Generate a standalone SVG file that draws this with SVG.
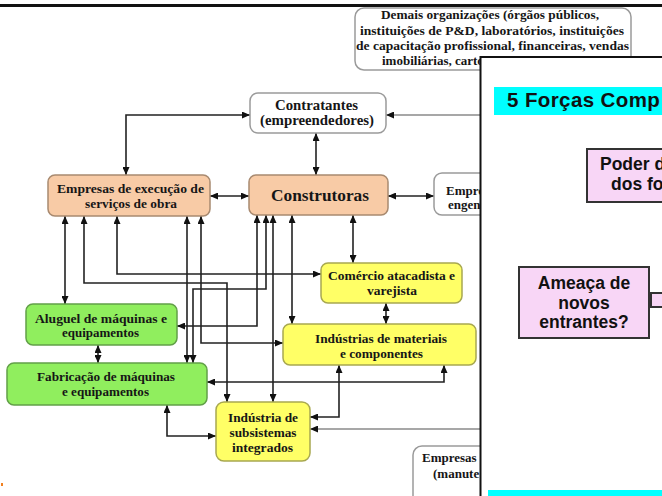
<svg xmlns="http://www.w3.org/2000/svg" width="662" height="496" viewBox="0 0 662 496">
  <style>
    .box { stroke-width: 1.5; }
    .white { fill: #ffffff; stroke: #9a9a9a; }
    .orange { fill: #f8cba6; stroke: #a88a70; }
    .yellow { fill: #ffff66; stroke: #a8a850; }
    .green { fill: #90ee5e; stroke: #62a048; }
    .t { font-family: "Liberation Serif", "Times New Roman", serif; font-weight: bold; font-size: 13px; fill: #161616; text-anchor: middle; }
    .ts { text-anchor: start; }
    .c { fill: none; stroke: #222; stroke-width: 1.6; marker-start: url(#ah); marker-end: url(#ah); }
    .c1 { fill: none; stroke: #8a8a8a; stroke-width: 1.6; marker-end: url(#ah); }
    .sans { font-family: "Liberation Sans", Arial, sans-serif; font-weight: bold; fill: #111; }
    .pink { fill: #f8d6f6; stroke: #333; stroke-width: 2; }
  </style>
  <defs>
    <marker id="ah" viewBox="0 0 8 7" refX="8" refY="3.5" markerWidth="8" markerHeight="7" markerUnits="userSpaceOnUse" orient="auto-start-reverse">
      <path d="M0,0 L8,3.5 L0,7 z" fill="#111"/>
    </marker>
  </defs>

  <rect x="0" y="0" width="662" height="496" fill="#ffffff"/>
  <!-- top rule -->
  <rect x="0" y="4" width="662" height="3" fill="#111"/>
  <!-- tiny orange mark -->
  <rect x="1" y="483" width="2" height="3" fill="#f08020"/>

  <!-- connectors -->
  <g id="connectors">
    <path class="c" d="M126,175 V115 H250"/>
    <path class="c" d="M316,133 V175"/>
    <path class="c" d="M210,196 H249"/>
    <path class="c" d="M388,196 H434"/>
    <path class="c1" d="M481,115 H386"/>
    <path class="c" d="M353,215 V263"/>
    <path class="c" d="M386,303 V324"/>
    <path class="c" d="M65,216 V304"/>
    <path class="c" d="M84,216 V283 H227 V402"/>
    <path class="c" d="M117,216 V274 H321"/>
    <path class="c" d="M187,216 V363"/>
    <path class="c" d="M201,216 V343 H283"/>
    <path class="c" d="M257,215 V326 H177"/>
    <path class="c" d="M266,215 V289 H193 V363"/>
    <path class="c" d="M273,215 V402"/>
    <path class="c" d="M292,215 V324"/>
    <path class="c" d="M98,345 V363"/>
    <path class="c" d="M207,382 H444 V365"/>
    <path class="c" d="M339,365 V417 H310"/>
    <path class="c1" d="M481,429 H310"/>
    <path class="c" d="M167,405 V436 H216"/>
  </g>

  <g id="demais">
    <rect class="box white" x="355" y="8" width="276" height="62" rx="9"/>
    <text class="t" x="490" y="19" textLength="218" lengthAdjust="spacingAndGlyphs">Demais organizações (órgãos públicos,</text>
    <text class="t" x="492" y="35" textLength="264" lengthAdjust="spacingAndGlyphs">instituições de P&amp;D, laboratórios, instituições</text>
    <text class="t" x="492.5" y="50" textLength="273" lengthAdjust="spacingAndGlyphs">de capacitação profissional, financeiras, vendas</text>
    <text class="t ts" x="382" y="65">imobiliárias, carto</text>
  </g>

  <g id="contratantes">
    <rect class="box white" x="250" y="93" width="136" height="40" rx="8"/>
    <text class="t" x="316.5" y="110" style="font-size:14.5px" textLength="83" lengthAdjust="spacingAndGlyphs">Contratantes</text>
    <text class="t" x="317" y="125" style="font-size:14.5px" textLength="114" lengthAdjust="spacingAndGlyphs">(empreendedores)</text>
  </g>

  <g id="empresas-execucao">
    <rect class="box orange" x="48" y="175" width="162" height="41" rx="7"/>
    <text class="t" x="130.5" y="193" textLength="147" lengthAdjust="spacingAndGlyphs">Empresas de execução de</text>
    <text class="t" x="131" y="208" textLength="92" lengthAdjust="spacingAndGlyphs">serviços de obra</text>
  </g>

  <g id="construtoras">
    <rect class="box orange" x="249" y="175" width="139" height="40" rx="7"/>
    <text class="t" x="320" y="201" style="font-size:17.5px" textLength="98" lengthAdjust="spacingAndGlyphs">Construtoras</text>
  </g>

  <g id="empresas-engenharia">
    <rect class="box white" x="434" y="173" width="100" height="42" rx="8"/>
    <text class="t ts" x="446" y="195">Empre</text>
    <text class="t ts" x="448" y="209">engen</text>
  </g>

  <g id="comercio">
    <rect class="box yellow" x="321" y="263" width="141" height="40" rx="7"/>
    <text class="t" x="391.5" y="280" textLength="127" lengthAdjust="spacingAndGlyphs">Comércio atacadista e</text>
    <text class="t" x="392" y="295" textLength="50" lengthAdjust="spacingAndGlyphs">varejista</text>
  </g>

  <g id="materiais">
    <rect class="box yellow" x="283" y="324" width="193" height="41" rx="7"/>
    <text class="t" x="381" y="343" textLength="132" lengthAdjust="spacingAndGlyphs">Indústrias de materiais</text>
    <text class="t" x="381.5" y="358" textLength="83" lengthAdjust="spacingAndGlyphs">e componentes</text>
  </g>

  <g id="aluguel">
    <rect class="box green" x="26" y="304" width="151" height="41" rx="7"/>
    <text class="t" x="101" y="323" textLength="132" lengthAdjust="spacingAndGlyphs">Aluguel de máquinas e</text>
    <text class="t" x="100.5" y="337" textLength="77" lengthAdjust="spacingAndGlyphs">equipamentos</text>
  </g>

  <g id="fabricacao">
    <rect class="box green" x="7" y="363" width="200" height="42" rx="7"/>
    <text class="t" x="106" y="381" textLength="138" lengthAdjust="spacingAndGlyphs">Fabricação de máquinas</text>
    <text class="t" x="105.5" y="396" textLength="87" lengthAdjust="spacingAndGlyphs">e equipamentos</text>
  </g>

  <g id="subsistemas">
    <rect class="box yellow" x="216" y="402" width="94" height="59" rx="8"/>
    <text class="t" x="263" y="422" textLength="70" lengthAdjust="spacingAndGlyphs">Indústria de</text>
    <text class="t" x="263" y="437" textLength="67" lengthAdjust="spacingAndGlyphs">subsistemas</text>
    <text class="t" x="262.5" y="452" textLength="61" lengthAdjust="spacingAndGlyphs">integrados</text>
  </g>

  <g id="empresas-manutencao">
    <rect class="box white" x="413" y="446" width="100" height="60" rx="9"/>
    <text class="t ts" x="422" y="462">Empresas</text>
    <text class="t ts" x="433" y="478">(manute</text>
  </g>

  <!-- overlapping slide panel -->
  <g id="painel-5-forcas">
    <rect x="480.5" y="57" width="200" height="460" fill="#ffffff" stroke="#111" stroke-width="2"/>
    <rect x="494" y="87" width="170" height="28" fill="#00ffff"/>
    <text class="sans" x="507" y="107" style="font-size:20.5px; letter-spacing:0.4px">5 Forças Comp</text>
  </g>

  <g id="poder-fornecedores">
    <rect class="pink" x="587" y="149" width="90" height="53"/>
    <text class="sans" x="600" y="170" style="font-size:17.5px">Poder d</text>
    <text class="sans" x="611" y="190" style="font-size:17.5px">dos fo</text>
  </g>

  <g id="novos-entrantes">
    <rect class="pink" x="519" y="267" width="130" height="71"/>
    <text class="sans" x="584" y="289" text-anchor="middle" style="font-size:17.5px">Ameaça de</text>
    <text class="sans" x="584" y="309" text-anchor="middle" style="font-size:17.5px">novos</text>
    <text class="sans" x="584" y="328" text-anchor="middle" style="font-size:17.5px">entrantes?</text>
  </g>

  <g id="rivalidade">
    <rect class="pink" x="651" y="293" width="20" height="14"/>
  </g>

  <g id="faixa-inferior">
    <rect x="488" y="490" width="180" height="10" fill="#00ffff"/>
  </g>
</svg>
